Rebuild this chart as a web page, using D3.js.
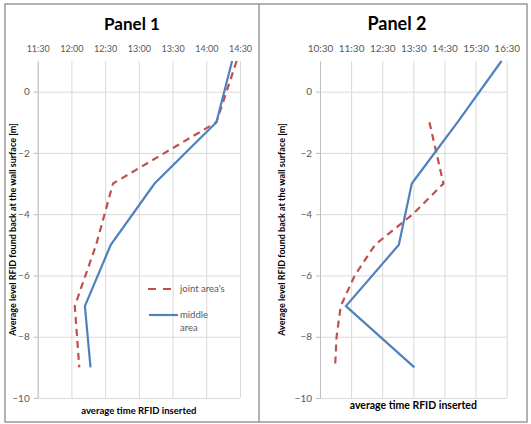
<!DOCTYPE html>
<html>
<head>
<meta charset="utf-8">
<script src="https://cdn.jsdelivr.net/npm/d3@7"></script>
<style>
  body { margin: 0; background: #fff; }
  text { font-family: Lato, "Open Sans", sans-serif; }
</style>
</head>
<body>
<div id="chart"></div>
<script>
// depth (m) and average insertion time
const depthTicks = [0, -2, -4, -6, -8, -10];

const panel1Ticks = ["11:30", "12:00", "12:30", "13:00", "13:30", "14:00", "14:30"];
const panel1Depth = [1, -1, -3, -5, -7, -9];
const panel1Joint = ["14:27", "14:09", "12:37", "12:22", "12:03", "12:07"];
const panel1Middle = ["14:23", "14:09", "13:14", "12:35", "12:12", "12:17"];

const panel2Ticks = ["10:30", "11:30", "12:30", "13:30", "14:30", "15:30", "16:30"];
const panel2JointDepth = [-1, -3, -4, -5, -6, -7, -8, -9];
const panel2Joint = ["14:01", "14:28", "13:29", "12:16", "11:37", "11:10", "11:02", "10:59"];
const panel2MiddleDepth = [1, -1, -3, -5, -7, -9];
const panel2Middle = ["16:20", "14:55", "13:27", "13:02", "11:20", "13:32"];

const toHours = s => { const [h, m] = s.split(":"); return +h + m / 60; };

const svg = d3.select("#chart").append("svg")
    .attr("width", 531)
    .attr("height", 424);

// outer frame and divider
svg.append("rect")
    .attr("x", 5).attr("y", 4).attr("width", 522).attr("height", 418)
    .attr("fill", "none").attr("stroke", "#999").attr("stroke-width", 1.5);
svg.append("line")
    .attr("x1", 259).attr("x2", 259).attr("y1", 4).attr("y2", 422)
    .attr("stroke", "#999").attr("stroke-width", 1.5);

const plotTop = 61, plotBottom = 398;

function drawPanel(p) {
    const x = d3.scaleLinear()
        .domain(d3.extent(p.ticks, toHours))
        .range([p.left, p.right]);
    const y = d3.scaleLinear().domain([1, -10]).range([plotTop, plotBottom]);

    // vertical gridlines + time labels on top
    const xa = svg.append("g")
        .attr("transform", `translate(0,${plotTop})`)
        .call(d3.axisTop(x)
            .tickValues(p.ticks.map(toHours))
            .tickFormat((d, i) => p.ticks[i])
            .tickSizeInner(-(plotBottom - plotTop))
            .tickSizeOuter(0)
            .tickPadding(9));
    xa.select(".domain").remove();
    xa.selectAll("line").attr("stroke", "#d9d9d9");
    xa.selectAll("text")
        .attr("fill", "#595959")
        .style("font-size", p.tickSize + "px");

    // horizontal gridlines
    const grid = svg.append("g")
        .attr("transform", `translate(${p.left},0)`)
        .call(d3.axisLeft(y).tickValues(depthTicks).tickFormat("")
            .tickSizeInner(-(p.right - p.left)).tickSizeOuter(0));
    grid.select(".domain").remove();
    grid.selectAll("line").attr("stroke", "#d9d9d9");

    // depth axis
    const ya = svg.append("g")
        .attr("transform", `translate(${p.left},0)`)
        .call(d3.axisLeft(y).tickValues(depthTicks).tickSizeInner(4)
            .tickSizeOuter(0).tickPadding(4));
    ya.select(".domain").attr("stroke", "#bfbfbf");
    ya.selectAll("line").attr("stroke", "#bfbfbf");
    ya.selectAll("text")
        .attr("fill", "#595959")
        .style("font-size", "10px");

    // titles
    svg.append("text")
        .attr("x", p.titleX).attr("y", 30)
        .attr("text-anchor", "middle")
        .style("font-size", p.titleSize + "px").style("font-weight", "bold")
        .attr("fill", "#000")
        .text(p.title);

    svg.append("text")
        .attr("transform", `translate(${p.yTitleX},${(plotTop + plotBottom) / 2}) rotate(-90)`)
        .attr("text-anchor", "middle")
        .attr("dy", "0.35em")
        .style("font-size", "9px").style("font-weight", "bold")
        .attr("fill", "#000")
        .text("Average level RFID found back at the wall surface [m]");

    svg.append("text")
        .attr("x", (p.left + p.right) / 2).attr("y", p.xTitleY)
        .attr("text-anchor", "middle")
        .style("font-size", p.xTitleSize + "px").style("font-weight", "bold")
        .attr("fill", "#000")
        .text("average time RFID inserted");

    // series
    const line = d3.line().x(d => x(d[0])).y(d => y(d[1]));

    svg.append("path")
        .datum(p.joint.map((t, i) => [toHours(t), p.jointDepth[i]]))
        .attr("d", line)
        .attr("fill", "none")
        .attr("stroke", "#c0504d")
        .attr("stroke-width", 2.2)
        .attr("stroke-dasharray", "7,5");

    svg.append("path")
        .datum(p.middle.map((t, i) => [toHours(t), p.middleDepth[i]]))
        .attr("d", line)
        .attr("fill", "none")
        .attr("stroke", "#4f81bd")
        .attr("stroke-width", 2.2);
}

drawPanel({
    title: "Panel 1", titleX: 132, titleSize: 17,
    left: 37.7, right: 240, ticks: panel1Ticks, tickSize: 9,
    yTitleX: 13, xTitleY: 414, xTitleSize: 9.5,
    joint: panel1Joint, jointDepth: panel1Depth,
    middle: panel1Middle, middleDepth: panel1Depth
});

drawPanel({
    title: "Panel 2", titleX: 397, titleSize: 18,
    left: 320, right: 506.7, ticks: panel2Ticks, tickSize: 10,
    yTitleX: 282, xTitleY: 409, xTitleSize: 10.5,
    joint: panel2Joint, jointDepth: panel2JointDepth,
    middle: panel2Middle, middleDepth: panel2MiddleDepth
});

// legend (panel 1 only)
const legend = svg.append("g");
legend.append("line")
    .attr("x1", 148).attr("x2", 172).attr("y1", 289).attr("y2", 289)
    .attr("stroke", "#c0504d").attr("stroke-width", 2.2).attr("stroke-dasharray", "8,7");
legend.append("text")
    .attr("x", 180).attr("y", 289).attr("dy", "0.35em")
    .style("font-size", "9.5px").attr("fill", "#595959")
    .text("joint area's");
legend.append("line")
    .attr("x1", 149).attr("x2", 178).attr("y1", 315).attr("y2", 315)
    .attr("stroke", "#4f81bd").attr("stroke-width", 2.2);
legend.append("text")
    .attr("x", 180).attr("y", 315).attr("dy", "0.35em")
    .style("font-size", "9.5px").attr("fill", "#595959")
    .text("middle");
legend.append("text")
    .attr("x", 180).attr("y", 328).attr("dy", "0.35em")
    .style("font-size", "9.5px").attr("fill", "#595959")
    .text("area");
</script>
</body>
</html>
